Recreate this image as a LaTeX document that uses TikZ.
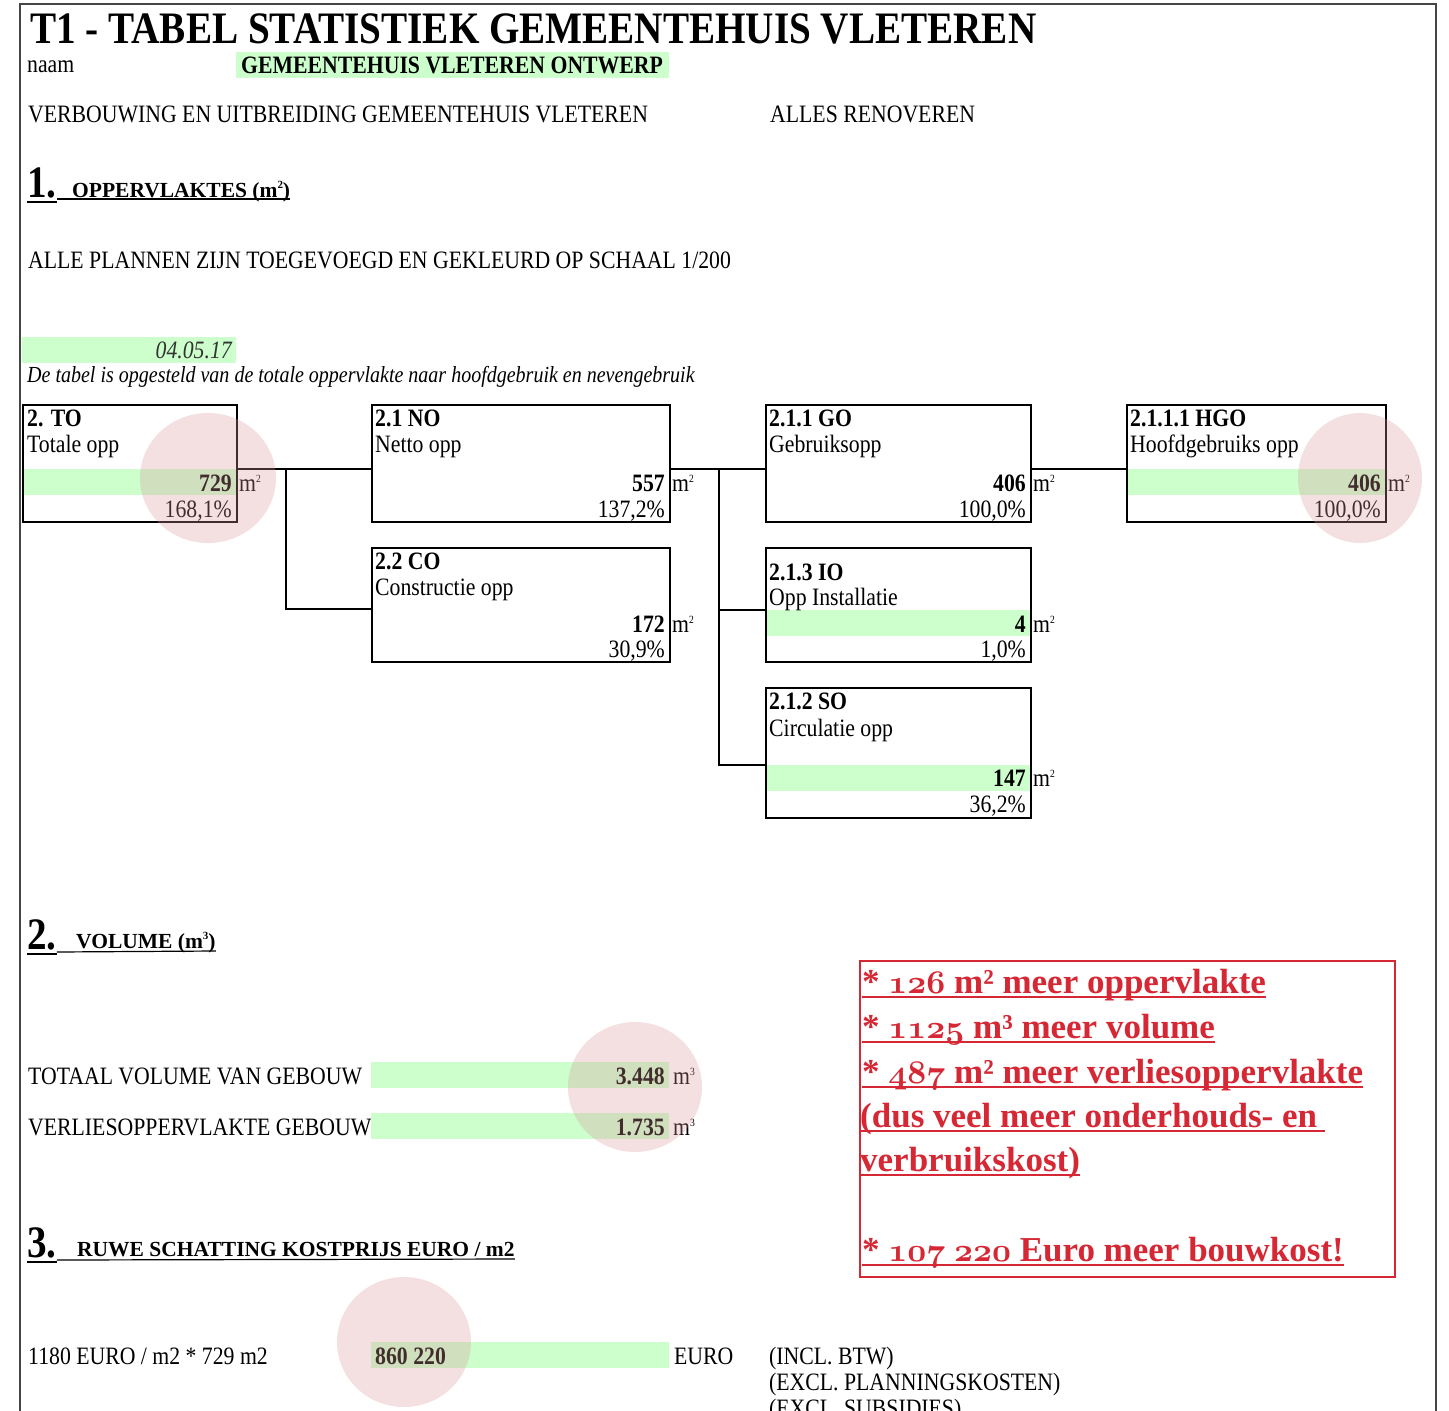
\documentclass[tikz,border=0pt]{standalone}
\usepackage{fontspec}
\setmainfont{Liberation Serif}[FakeStretch=0.87]
\newfontfamily\hdfont{Liberation Serif}
\usetikzlibrary{calc}
\definecolor{hl}{RGB}{204,255,204}
\definecolor{pk}{RGB}{220,150,155}
\definecolor{rd}{RGB}{214,40,52}
\definecolor{frm}{RGB}{70,70,70}
\newcommand\fs[1]{\fontsize{#1}{#1}\selectfont}
\newcommand\supx[1]{\raisebox{9pt}{\fs{11}#1}}
\newcommand\osn[1]{\scalebox{3.3}{\fontsize{10}{12}\usefont{OML}{cmm}{b}{it}#1}}
\tikzset{
  box/.style={draw, line width=2.4pt, inner sep=0, anchor=north west},
  band/.style={fill=hl, inner sep=0, anchor=north west, minimum height=26pt},
  tl/.style={inner sep=0, anchor=base west, font=\fs{25}},
  tlb/.style={inner sep=0, anchor=base west, font=\fs{25}\bfseries},
  tr/.style={inner sep=0, anchor=base east, font=\fs{25}},
  trb/.style={inner sep=0, anchor=base east, font=\fs{25}\bfseries},
  hnum/.style={inner sep=0, anchor=base west, font=\fs{45}\bfseries},
  htxt/.style={inner sep=0, anchor=base west, font=\hdfont\bfseries\fs{21.5}},
  conn/.style={line width=2pt},
  blob/.style={fill=pk, fill opacity=0.3},
  rt/.style={inner sep=0, anchor=base west, text=rd, font=\hdfont\bfseries\fs{35}},
  rul/.style={draw=rd, line width=1.4pt}
}
\begin{document}
\begin{tikzpicture}[x=1pt,y=-1pt]
\useasboundingbox (0,0) rectangle (1449,1411);
% frame
\draw[line width=2pt, frm] (20,1411) -- (20,4) -- (1436,4) -- (1436,1411);

% header
\node[tlb, font=\fs{45}\bfseries] (title) at (30,43) {T1 - TABEL STATISTIEK GEMEENTEHUIS VLETEREN};
\node[tl] (naam) at (27,72) {naam};
\node[band, minimum width=433pt] (naamband) at (236,52) {};
\node[tlb] (naamv) at (241,73) {GEMEENTEHUIS VLETEREN ONTWERP};
\node[tl] (proj) at (28,122) {VERBOUWING EN UITBREIDING GEMEENTEHUIS VLETEREN};
\node[tl] (reno) at (770,122) {ALLES RENOVEREN};

% section 1
\node[hnum] (h1n) at (27,197) {1.};
\node[htxt] (h1t) at (72,197) {OPPERVLAKTES (m\supx{2})};
\draw[line width=2pt] ([yshift=-5pt]h1n.base west) -- ([yshift=-5pt]h1n.base east);
\draw[line width=1.2pt] ([yshift=-2pt]h1n.base east) -- ([yshift=-2pt]h1t.base east);
\node[tl] (plannen) at (28,268) {ALLE PLANNEN ZIJN TOEGEVOEGD EN GEKLEURD OP SCHAAL 1/200};
\node[band, minimum width=214pt] (dateband) at (22,337) {};
\node[tr, font=\fs{25}\itshape, text=black!80] (date) at (232,358) {04.05.17};
\node[tl, font=\fs{23}\itshape] (intro) at (27,382) {De tabel is opgesteld van de totale oppervlakte naar hoofdgebruik en nevengebruik};

% bands in boxes
\node[band, minimum width=214pt] (toband) at (22,469) {};
\node[band, minimum width=265pt] (ioband) at (765,610) {};
\node[band, minimum width=265pt] (soband) at (765,765) {};
\node[band, minimum width=259pt] (hgoband) at (1126,469) {};

% box TO
\node[box, minimum width=214pt, minimum height=117pt] (to) at (22,404) {};
\node[tlb] (toa) at (27,426) {2. TO};
\node[tl] (tob) at (27,452) {Totale opp};
\node[trb] (toc) at (232,491) {729};
\node[tl] (tou) at (239,491) {m\supx{2}};
\node[tr] (top) at (232,517) {168,1\%};

% box NO
\node[box, minimum width=298pt, minimum height=117pt] (no) at (371,404) {};
\node[tlb] (noa) at (375,426) {2.1 NO};
\node[tl] (nob) at (375,452) {Netto opp};
\node[trb] (noc) at (665,491) {557};
\node[tl] (nou) at (672,491) {m\supx{2}};
\node[tr] (nop) at (665,517) {137,2\%};

% box CO
\node[box, minimum width=298pt, minimum height=114pt] (co) at (371,547) {};
\node[tlb] (coa) at (375,569) {2.2 CO};
\node[tl] (cob) at (375,595) {Constructie opp};
\node[trb] (coc) at (665,632) {172};
\node[tl] (cou) at (672,632) {m\supx{2}};
\node[tr] (cop) at (665,657) {30,9\%};

% box GO
\node[box, minimum width=265pt, minimum height=117pt] (go) at (765,404) {};
\node[tlb] (goa) at (769,426) {2.1.1 GO};
\node[tl] (gob) at (769,452) {Gebruiksopp};
\node[trb] (goc) at (1026,491) {406};
\node[tl] (gou) at (1033,491) {m\supx{2}};
\node[tr] (gop) at (1026,517) {100,0\%};

% box IO
\node[box, minimum width=265pt, minimum height=114pt] (io) at (765,547) {};
\node[tlb] (ioa) at (769,580) {2.1.3 IO};
\node[tl] (iob) at (769,605) {Opp Installatie};
\node[trb] (ioc) at (1026,632) {4};
\node[tl] (iou) at (1033,632) {m\supx{2}};
\node[tr] (iop) at (1026,657) {1,0\%};

% box SO
\node[box, minimum width=265pt, minimum height=130pt] (so) at (765,687) {};
\node[tlb] (soa) at (769,709) {2.1.2 SO};
\node[tl] (sob) at (769,736) {Circulatie opp};
\node[trb] (soc) at (1026,786) {147};
\node[tl] (sou) at (1033,786) {m\supx{2}};
\node[tr] (sop) at (1026,812) {36,2\%};

% box HGO
\node[box, minimum width=259pt, minimum height=117pt] (hgo) at (1126,404) {};
\node[tlb] (hgoa) at (1130,426) {2.1.1.1 HGO};
\node[tl] (hgob) at (1130,452) {Hoofdgebruiks opp};
\node[trb] (hgoc) at (1381,491) {406};
\node[tl] (hgou) at (1388,491) {m\supx{2}};
\node[tr] (hgop) at (1381,517) {100,0\%};

% connectors
\draw[conn] ([yshift=-65pt]to.north east) -- ([yshift=-65pt]no.north west);
\draw[conn] ([yshift=-65pt]to.north east) ++(48,0) |- ([yshift=-62pt]co.north west);
\draw[conn] ([yshift=-65pt]no.north east) -- ([yshift=-65pt]go.north west);
\draw[conn] ([yshift=-65pt]no.north east) ++(48,0) |- ([yshift=-63pt]io.north west);
\draw[conn] ([yshift=-65pt]no.north east) ++(48,0) |- ([yshift=-78pt]so.north west);
\draw[conn] ([yshift=-65pt]go.north east) -- ([yshift=-65pt]hgo.north west);

% section 2
\node[hnum] (h2n) at (27,949) {2.};
\node[htxt] (h2t) at (76,948) {VOLUME (m\supx{3})};
\draw[line width=2pt] ([yshift=-5pt]h2n.base west) -- ([yshift=-5pt]h2n.base east);
\draw[line width=1.2pt] ([yshift=-3pt]h2n.base east) -- ([yshift=-3pt]h2t.base east);
\node[tl] (vol) at (28,1084) {TOTAAL VOLUME VAN GEBOUW};
\node[tl] (verl) at (28,1135) {VERLIESOPPERVLAKTE GEBOUW};
\node[band, minimum width=298pt] (volband) at (371,1062) {};
\node[band, minimum width=298pt] (verlband) at (371,1113) {};
\node[trb] (volv) at (665,1084) {3.448};
\node[tl] (volu) at (673,1084) {m\supx{3}};
\node[trb] (verlv) at (665,1135) {1.735};
\node[tl] (verlu) at (673,1135) {m\supx{3}};

% section 3
\node[hnum] (h3n) at (27,1257) {3.};
\node[htxt] (h3t) at (77,1256) {RUWE SCHATTING KOSTPRIJS EURO / m2};
\draw[line width=2pt] ([yshift=-5pt]h3n.base west) -- ([yshift=-5pt]h3n.base east);
\draw[line width=1.2pt] ([yshift=-3pt]h3n.base east) -- ([yshift=-3pt]h3t.base east);
\node[tl] (calc) at (28,1364) {1180 EURO / m2 * 729 m2};
\node[band, minimum width=298pt] (costband) at (371,1342) {};
\node[tlb] (cost) at (375,1364) {860 220};
\node[tl] (euro) at (674,1364) {EURO};
\node[tl] (n1) at (769,1364) {(INCL. BTW)};
\node[tl] (n2) at (769,1390) {(EXCL. PLANNINGSKOSTEN)};
\node[tl] (n3) at (769,1416) {(EXCL. SUBSIDIES)};

% red box
\node[draw=rd, line width=2pt, inner sep=0, anchor=north west, minimum width=535pt, minimum height=316pt] (rbox) at (859,960) {};
\node[rt] (r1) at (862,993) {* \osn{126} m² meer oppervlakte};
\node[rt] (r2) at (862,1038) {* \osn{1125} m³ meer volume};
\node[rt] (r3) at (862,1083) {* \osn{487} m² meer verliesoppervlakte};
\node[rt] (r4) at (860,1127) {(dus veel meer onderhouds- en\hspace*{8pt}};
\node[rt] (r5) at (860,1171) {verbruikskost)};
\node[rt] (r7) at (862,1261) {* \osn{107} \osn{220} Euro meer bouwkost!};
\foreach \r in {r1,r2,r3,r4,r5,r7}{
  \draw[rul] ([yshift=-4pt]\r.base west) -- ([yshift=-4pt]\r.base east);
}

% pink highlights
\fill[blob] (208,478) ellipse [x radius=68, y radius=65];
\fill[blob] (1360,478) ellipse [x radius=62, y radius=65];
\fill[blob] (635,1087) ellipse [x radius=67, y radius=65];
\fill[blob] (404,1342) ellipse [x radius=67, y radius=65];
\end{tikzpicture}
\end{document}
